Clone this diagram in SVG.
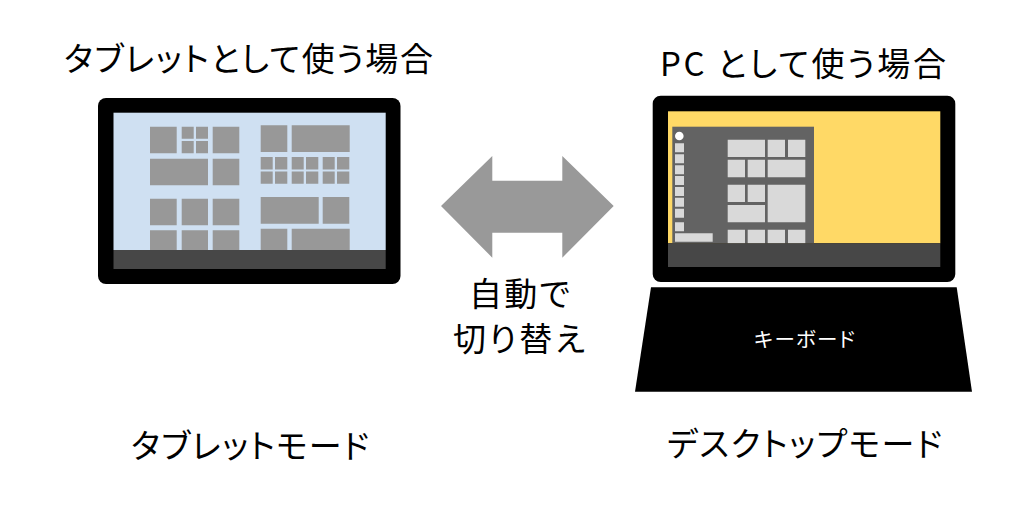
<svg xmlns="http://www.w3.org/2000/svg" width="1024" height="520" viewBox="0 0 1024 520">
<style>
text{font-family:"Noto Sans CJK JP","Liberation Sans",sans-serif;fill:#000;font-size:33px;font-feature-settings:"palt"}
.f{fill:#000}
.t{fill:#989898}
.d{fill:#d9d9d9}
.b{fill:#474747}
</style>
<rect width="1024" height="520" fill="#fff"/>
<text x="64" y="71" textLength="369" lengthAdjust="spacing">タブレットとして使う場合</text>
<text x="660" y="76" textLength="286" lengthAdjust="spacing">PC として使う場合</text>
<text x="131" y="458" textLength="238" lengthAdjust="spacing">タブレットモード</text>
<text x="667" y="456" textLength="275" lengthAdjust="spacing">デスクトップモード</text>
<g id="tablet">
<rect class="f" x="98" y="98" width="302.500" height="186" rx="8"/>
<rect x="113.500" y="112.700" width="272.200" height="137.300" fill="#cfe0f2"/>
<path class="t" d="M150 126.700h26.700v26.600H150zM181.700 126.700h12v12h-12zM196 126.700h12v12h-12zM181.700 141h12v12.300h-12zM196 141h12v12.300h-12zM212.700 126.700h26.600v26.600h-26.600zM150 158.700h58v26.600h-58zM212.700 158.700h26.600v26.600h-26.600zM150 198.700h26.700v26.600H150zM181.700 198.700h26.300v26.600h-26.300zM212.700 198.700h26.600v26.600h-26.600zM150 230.300h26.700V250H150zM181.700 230.300h26.300V250h-26.300zM212.700 230.300h26.600V250h-26.600z"/>
<path class="t" d="M260.700 125.300h26.600V152h-26.600zM291.700 125.300h58V152h-58zM260.700 157h12v12.500h-12zM275 157h12.300v12.500H275zM260.700 171.500h12v12.200h-12zM275 171.500h12.300v12.200H275zM291.700 157h12v12.500h-12zM306 157h12.300v12.500H306zM291.700 171.500h12v12.200h-12zM306 171.500h12.300v12.200H306zM322.700 157h12v12.500h-12zM337 157h12.300v12.500H337zM322.700 171.500h12v12.200h-12zM337 171.500h12.300v12.200H337zM260.700 197h58v26.700h-58zM322.700 197h26.600v26.700h-26.600zM260.700 228.700h26.600V250h-26.600zM291.700 228.700h58V250h-58z"/>
<rect class="b" x="113.500" y="250" width="272.200" height="19"/>
</g>
<g id="laptop">
<rect class="f" x="652.700" y="95.700" width="302.600" height="186.300" rx="8"/>
<rect x="668" y="111.300" width="272.300" height="132" fill="#ffd966"/>
<rect x="672.300" y="126.700" width="141.700" height="116.600" fill="#636363"/>
<circle cx="679.300" cy="136" r="4.300" fill="#fff"/>
<path class="d" d="M675 143.300h9v9h-9zM675 154.300h9v9h-9zM675 165.300h9v9h-9zM675 176h9v9h-9zM675 187h9v9h-9zM675 197.700h9v9h-9zM675 208.700h9v9h-9zM675 222.300h9v9h-9zM675 233.300h37.700v8.400H675z"/>
<path class="d" d="M727.700 139.700H765V157h-37.300zM767.700 139.700H785V157h-17.300zM788 139.700h17.300V157H788zM727.700 159.700H745v17.600h-17.300zM747.700 159.700H765v17.600h-17.300zM767.700 159.700h37.600v17.600h-37.600zM727.700 184.700H745V202h-17.300zM747.700 184.700H765V202h-17.300zM767.700 184.700h37.600v37.600h-37.600zM727.700 205H765v17.300h-37.300zM727.700 229.700H745v13.600h-17.300zM747.700 229.700H765v13.600h-17.300zM767.700 229.700H785v13.600h-17.300zM788 229.700h17.300v13.600H788z"/>
<rect class="b" x="668" y="243.300" width="272.300" height="23.700"/>
</g>
<g id="keyboard">
<path class="f" d="M651 287.300H956.700L972 391.700H635Z"/>
<text x="754" y="347" textLength="101" lengthAdjust="spacing" style="fill:#fff;font-size:20.500px">キーボード</text>
</g>
<g id="connectors">
<path d="M441 206L492.300 156V180.700H562.300V156L613.700 206L562.300 257.700V232.700H492.300V257.700Z" fill="#999"/>
<text x="469" y="306" textLength="101" lengthAdjust="spacing">自動で</text>
<text x="453" y="351" textLength="132" lengthAdjust="spacing">切り替え</text>
</g>
</svg>
